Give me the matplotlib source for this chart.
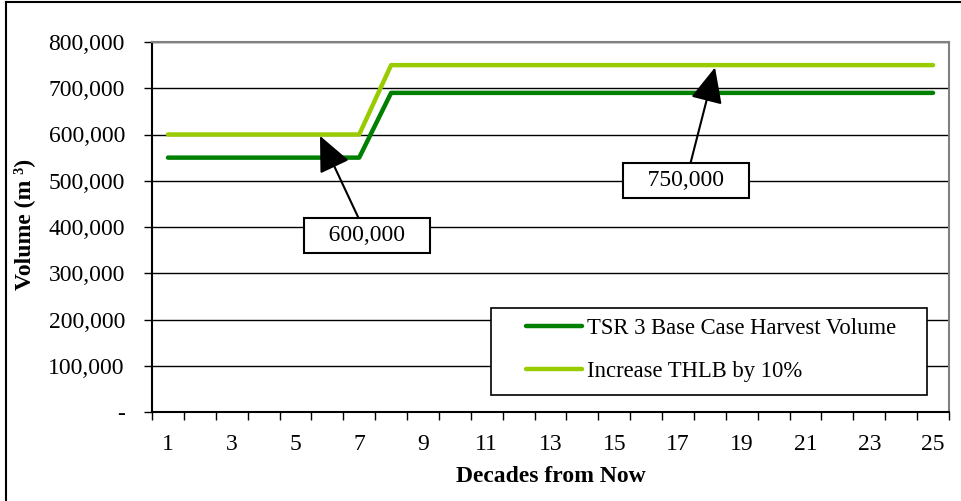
import matplotlib
matplotlib.use("Agg")
import matplotlib.pyplot as plt
from matplotlib.patches import Rectangle
from matplotlib.lines import Line2D

# data
decades = list(range(1, 26))
base_case = [550000] * 7 + [690000] * 18
thlb_10 = [600000] * 7 + [750000] * 18
ytick_vals = [0, 100000, 200000, 300000, 400000, 500000, 600000, 700000, 800000]
ytick_labels = ["-", "100,000", "200,000", "300,000", "400,000",
                "500,000", "600,000", "700,000", "800,000"]
xtick_vals = list(range(1, 26, 2))

plt.rcParams['font.family'] = ['Liberation Serif', 'DejaVu Serif']
W, H = 961, 501
fig = plt.figure(figsize=(W / 100, H / 100), dpi=100)
ax = fig.add_axes([152 / W, 1 - 412 / H, (949 - 152) / W, (412 - 42) / H])

ax.plot(decades, base_case, color="#008000", lw=3.2, solid_capstyle="round",
        label="TSR 3 Base Case Harvest Volume", zorder=3)
ax.plot(decades, thlb_10, color="#99CC00", lw=3.2, solid_capstyle="round",
        label="Increase THLB by 10%", zorder=3)

ax.set_xlim(0.5, 25.5)
ax.set_ylim(0, 800000)

# category axis: tick marks between categories, labels on odd categories
ax.set_xticks([d - 0.5 for d in decades] + [25.5])
ax.set_xticklabels([])
ax.set_xticks(xtick_vals, minor=True)
ax.set_xticklabels([str(v) for v in xtick_vals], minor=True)
ax.tick_params(axis="x", which="major", direction="out", length=6, width=1, color="black")
ax.tick_params(axis="x", which="minor", length=0, pad=15.5, labelsize=17)

ax.set_yticks(ytick_vals)
ax.set_yticklabels(ytick_labels)
ax.tick_params(axis="y", direction="out", length=6, width=1, pad=13.5, labelsize=17)
ax.yaxis.grid(True, color="black", lw=1)
ax.set_axisbelow(True)

for s in ["top", "right"]:
    ax.spines[s].set_color("#808080")
    ax.spines[s].set_linewidth(1.5)
for s in ["left", "bottom"]:
    ax.spines[s].set_color("black")
    ax.spines[s].set_linewidth(1.5)

ax.set_xlabel("Decades from Now", fontsize=17, fontweight="bold")
ax.set_ylabel("Volume (m ³)", fontsize=17, fontweight="bold")
ax.xaxis.set_label_coords(0.5, (412 - 476) / 370)
ax.xaxis.label.set_va("center")
ax.yaxis.set_label_coords((24 - 152) / 797, (412 - 224) / 370)
ax.yaxis.label.set_va("center")

# callouts
box = dict(boxstyle="square,pad=0.3", fc="white", ec="black", lw=1.5)
arrow = dict(arrowstyle="-|>,head_length=1.1,head_width=0.5", color="black", lw=1.5,
             mutation_scale=20, shrinkA=0, shrinkB=0)
ax.annotate("   600,000   ", xy=(5.77, 597000), xytext=(7.24, 381000),
            ha="center", va="center", fontsize=17, bbox=box, arrowprops=arrow, zorder=5)
ax.annotate("   750,000   ", xy=(18.16, 745000), xytext=(17.25, 500000),
            ha="center", va="center", fontsize=17, bbox=box, arrowprops=arrow, zorder=5)

# legend box
fig.patches.append(Rectangle((491 / W, 1 - 395 / H), (927 - 491) / W, (395 - 308) / H,
                             transform=fig.transFigure, fc="white", ec="black", lw=1.2,
                             zorder=4))
leg = fig.legend(loc="upper left", bbox_to_anchor=(526 / W, 1 - 318 / H),
                 frameon=False, fontsize=16.3, handlelength=2.48, handletextpad=0.22,
                 labelspacing=0.95, borderpad=0, borderaxespad=0)
leg.set_zorder(6)

# outer chart frame
fig.add_artist(Line2D([6 / W, 6 / W], [0, 1 - 2 / H], transform=fig.transFigure,
                      color="black", lw=1.5))
fig.add_artist(Line2D([6 / W, 1], [1 - 2 / H, 1 - 2 / H], transform=fig.transFigure,
                      color="black", lw=1.5))

fig.savefig("out.png", dpi=100)
